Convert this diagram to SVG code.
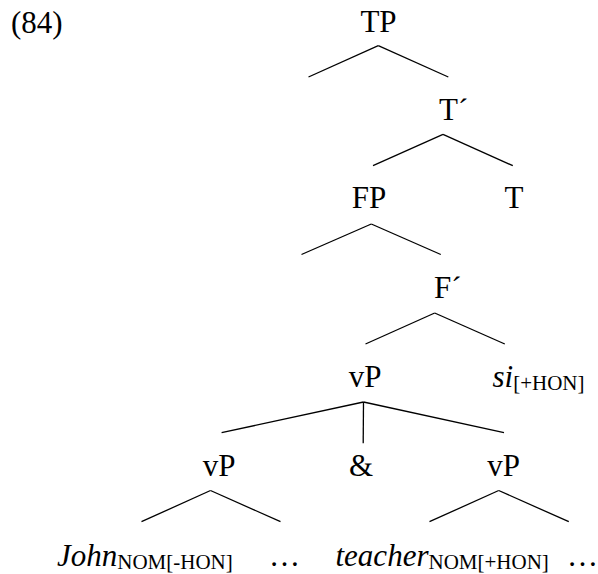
<svg xmlns="http://www.w3.org/2000/svg" width="598" height="574" viewBox="0 0 598 574">
<style>
text{font-family:"Liberation Serif","Times New Roman",serif;font-size:31px;fill:#000}
.m{text-anchor:middle}
.i{font-style:italic}
.s{font-size:21px;font-style:normal}
#edges line{stroke:#000;stroke-width:1.3;stroke-linecap:butt}
</style>
<rect width="598" height="574" fill="#fff"/>
<text id="exnum" x="11" y="33">(84)</text>
<g id="edges">
<line x1="378.3" y1="45.7" x2="308.5" y2="77"/>
<line x1="378.3" y1="45.7" x2="448.3" y2="77"/>
<line x1="443" y1="134.3" x2="373" y2="165.7"/>
<line x1="443" y1="134.3" x2="512.8" y2="165.7"/>
<line x1="371.3" y1="224" x2="301.5" y2="254.5"/>
<line x1="371.3" y1="224" x2="440.8" y2="254.5"/>
<line x1="434.7" y1="313" x2="365.5" y2="344"/>
<line x1="434.7" y1="313" x2="504.8" y2="344"/>
<line x1="363.5" y1="402" x2="221.6" y2="432.7"/>
<line x1="363.5" y1="402" x2="363.2" y2="443.3"/>
<line x1="363.5" y1="402" x2="504" y2="432.7"/>
<line x1="210.5" y1="490.5" x2="141.5" y2="521.7"/>
<line x1="210.5" y1="490.5" x2="280.5" y2="521.7"/>
<line x1="498.7" y1="490.5" x2="429.5" y2="521.7"/>
<line x1="498.7" y1="490.5" x2="568.8" y2="521.7"/>
</g>
<g id="TP"><text class="m" x="378.5" y="32">TP</text></g>
<g id="Tbar"><text x="439" y="120">T´</text></g>
<g id="FP"><text class="m" x="369" y="208">FP</text></g>
<g id="T"><text class="m" x="514" y="208">T</text></g>
<g id="Fbar"><text x="434" y="298">F´</text></g>
<g id="vP"><text class="m" x="365" y="387">vP</text></g>
<g id="si"><text x="492.5" y="387"><tspan class="i">si</tspan><tspan class="s" dy="3">[+HON]</tspan></text></g>
<g id="vP1"><text class="m" x="219" y="476">vP</text></g>
<g id="amp"><text class="m" x="361" y="476">&amp;</text></g>
<g id="vP2"><text class="m" x="503.5" y="476">vP</text></g>
<g id="john"><text x="57" y="566"><tspan class="i">John</tspan><tspan class="s" dy="3">NOM[-HON]</tspan></text></g>
<g id="dots1"><text x="269" y="566">…</text></g>
<g id="teacher"><text x="335.5" y="566"><tspan class="i">teacher</tspan><tspan class="s" dy="3">NOM[+HON]</tspan></text></g>
<g id="dots2"><text x="567" y="566">…</text></g>
</svg>
